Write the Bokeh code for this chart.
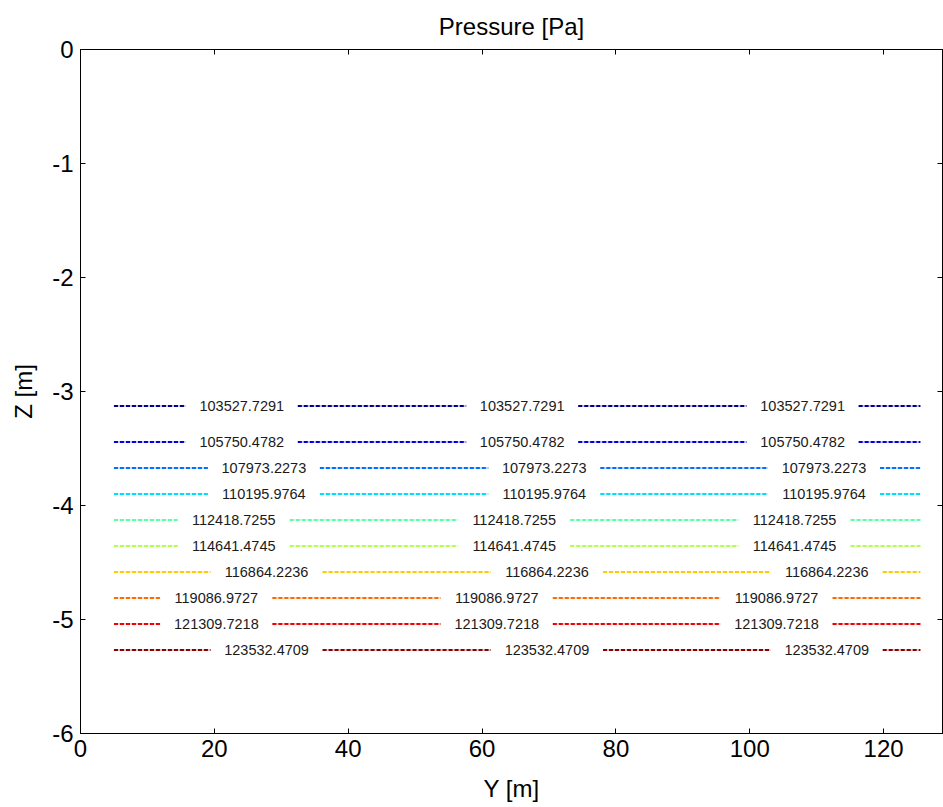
from bokeh.plotting import figure
from bokeh.models import LinearAxis, Range1d, FixedTicker, ColumnDataSource, PrintfTickFormatter
from bokeh.embed import file_html
from bokeh.resources import INLINE
from bokeh.core.properties import value

# contour levels (Pa) and their depth Z (m)
levels = [103527.7291, 105750.4782, 107973.2273, 110195.9764, 112418.7255,
          114641.4745, 116864.2236, 119086.9727, 121309.7218, 123532.4709]
level_z = [-3.127, -3.443, -3.671, -3.899, -4.127, -4.355, -4.583, -4.811, -5.039, -5.268]
# Y positions (m) of the inline labels on each contour
label_y = [
    [24.1, 66.0, 107.9],
    [24.1, 66.0, 107.9],
    [27.4, 69.3, 111.1],
    [27.4, 69.3, 111.1],
    [22.9, 64.8, 106.7],
    [22.9, 64.8, 106.7],
    [27.8, 69.7, 111.5],
    [20.3, 62.2, 104.0],
    [20.3, 62.2, 104.0],
    [27.8, 69.7, 111.5],
]
y_min_data, y_max_data = 5.0, 125.5
label_gap = 8.37
level_colors = ["#00008f", "#0000e0", "#0070ff", "#00dcff", "#5cffa3",
                "#b4ff4b", "#ffcc00", "#ff6a00", "#f00000", "#8b0000"]
x_ticks = [0, 20, 40, 60, 80, 100, 120]
z_ticks = [0, -1, -2, -3, -4, -5, -6]

FONT = "Liberation Sans"

p = figure(width=943, height=807, output_backend="svg", toolbar_location=None,
           x_range=Range1d(0, 128.8), y_range=Range1d(-6, 0),
           min_border_left=80, min_border_right=1, min_border_top=49, min_border_bottom=74,
           title="Pressure [Pa]")
p.title.align = "center"
p.title.text_font = FONT
p.title.text_font_size = "24px"
p.title.text_font_style = "normal"
p.title.text_color = "black"
p.title.standoff = 19
p.grid.visible = False
p.outline_line_color = "black"
p.background_fill_color = "white"
p.border_fill_color = "white"

xs, ys, cols = [], [], []
tx, ty, tt = [], [], []
for lev, z, labs, c in zip(levels, level_z, label_y, level_colors):
    edges = [y_min_data]
    for lx in labs:
        edges += [lx - label_gap, lx + label_gap]
        tx.append(lx); ty.append(z); tt.append("%.4f" % lev)
    edges.append(y_max_data)
    for i in range(0, len(edges), 2):
        xs.append([edges[i], edges[i + 1]])
        ys.append([z, z])
        cols.append(c)

src = ColumnDataSource(dict(xs=xs, ys=ys, color=cols))
p.multi_line("xs", "ys", source=src, line_color="color", line_width=1, line_alpha=0.45)
p.multi_line("xs", "ys", source=src, line_color="color", line_width=2, line_dash="4 2")

tsrc = ColumnDataSource(dict(x=tx, y=ty, t=tt))
p.text("x", "y", text="t", source=tsrc, text_font=value(FONT), text_font_size="14.5px",
       text_align="center", text_baseline="middle", text_color="#1a1a1a")

p.xaxis.axis_label = "Y [m]"
p.yaxis.axis_label = "Z [m]"
p.xaxis.ticker = FixedTicker(ticks=x_ticks)
p.yaxis.ticker = FixedTicker(ticks=z_ticks)
p.xaxis.formatter = PrintfTickFormatter(format="%d")
p.yaxis.formatter = PrintfTickFormatter(format="%d")
for ax in [p.xaxis[0], p.yaxis[0]]:
    ax.axis_line_color = "black"
    ax.major_tick_line_color = "black"
    ax.major_tick_in = 5
    ax.major_tick_out = 0
    ax.minor_tick_line_color = None
    ax.major_label_text_font = FONT
    ax.major_label_text_color = "black"
    ax.axis_label_text_font = FONT
    ax.axis_label_text_font_style = "normal"
    ax.axis_label_text_color = "black"
    ax.major_label_text_font_size = "24px"
    ax.axis_label_text_font_size = "24px"
p.xaxis.major_label_standoff = 6
p.xaxis.axis_label_standoff = 15
p.yaxis.major_label_standoff = 7
p.yaxis.axis_label_standoff = 12
p.yaxis.major_label_orientation = "horizontal"

top = LinearAxis(ticker=FixedTicker(ticks=x_ticks))
right = LinearAxis(ticker=FixedTicker(ticks=z_ticks))
top.major_label_overrides = {t: "" for t in x_ticks}
right.major_label_overrides = {t: "" for t in z_ticks}
for ax in (top, right):
    ax.axis_line_color = "black"
    ax.major_tick_line_color = "black"
    ax.major_tick_in = 5
    ax.major_tick_out = 0
    ax.minor_tick_line_color = None
    ax.major_label_text_font_size = "1px"
    ax.major_label_standoff = 0
p.add_layout(top, "above")
p.add_layout(right, "right")

open("out.html", "w").write(file_html(p, INLINE))
